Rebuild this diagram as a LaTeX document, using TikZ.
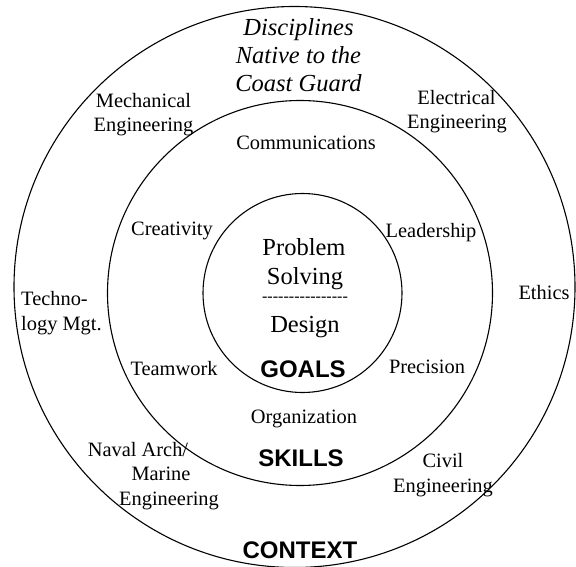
\documentclass[tikz,border=0pt]{standalone}
\usepackage{fontspec}
\setmainfont{Liberation Serif}
\setsansfont{Liberation Sans}
% hyphen rule under "Solving" must stay as plain hyphens
\newfontfamily\dashfont{Liberation Serif}[Ligatures=TeXOff]
\begin{document}
\begin{tikzpicture}[x=1pt,y=-1pt,
  ring/.style={line width=1.1pt},
  lbl/.style={anchor=base,inner sep=0pt,font=\fontsize{20.4}{24}\selectfont},
  lblw/.style={anchor=base west,inner sep=0pt,font=\fontsize{20.4}{24}\selectfont},
  big/.style={anchor=base,inner sep=0pt,font=\fontsize{24.5}{29}\selectfont},
  bigit/.style={anchor=base,inner sep=0pt,font=\fontsize{24.5}{29}\selectfont\itshape},
  head/.style={anchor=base,inner sep=0pt,font=\fontsize{24}{28}\sffamily\bfseries\selectfont},
  rule/.style={anchor=base,inner sep=0pt,font=\fontsize{16.1}{19}\selectfont\dashfont}]
\useasboundingbox (0,0) rectangle (576,567);

% three rings
\draw[ring] (294.5,287) circle[radius=280.5pt];
\draw[ring] (300,293) circle[radius=192.5pt];
\draw[ring] (302.5,293) circle[radius=99.5pt];

% centre: goals
\node[big] (prob) at (304,255) {Problem};
\node[big] (solv) at (305,284) {Solving};
\node[rule] (dash) at (305,301) {----------------};
\node[big] (desg) at (305,332) {Design};
\node[head] (goals) at (303,377) {GOALS};

% middle ring: skills
\node[lbl] (comm) at (306,149.5) {Communications};
\node[lbl] (crea) at (172,235) {Creativity};
\node[lbl] (lead) at (431,237.5) {Leadership};
\node[lbl] (team) at (174,375) {Teamwork};
\node[lbl] (prec) at (427,373) {Precision};
\node[lbl] (orga) at (304,423) {Organization};
\node[head] (skills) at (301,466.5) {SKILLS};

% outer ring: context
\node[bigit] (disc1) at (298.5,36) {Disciplines};
\node[bigit] (disc2) at (298.5,64) {Native to the};
\node[bigit] (disc3) at (298.5,92) {Coast Guard};
\node[lbl] (mech1) at (143.5,107.5) {Mechanical};
\node[lbl] (mech2) at (143.5,132) {Engineering};
\node[lbl] (elec1) at (456.5,105) {Electrical};
\node[lbl] (elec2) at (457,129) {Engineering};
\node[lblw] (tech1) at (21,305.5) {Techno-};
\node[lblw] (tech2) at (21,330) {logy Mgt.};
\node[lbl] (eth) at (544,299.5) {Ethics};
\node[lbl] (nav1) at (138,456.5) {Naval Arch/};
\node[lbl] (nav2) at (161,480.5) {Marine};
\node[lbl] (nav3) at (169,505) {Engineering};
\node[lbl] (civ1) at (443,467) {Civil};
\node[lbl] (civ2) at (443,492) {Engineering};
\node[head] (ctx) at (300,558) {CONTEXT};
\end{tikzpicture}
\end{document}
